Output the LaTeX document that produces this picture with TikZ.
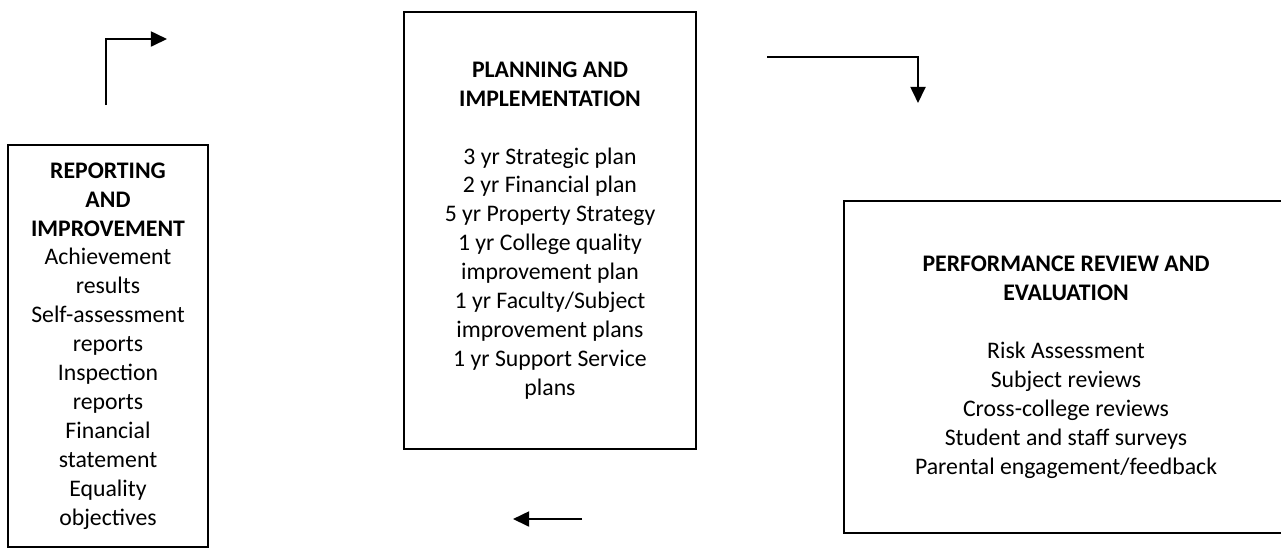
\documentclass[tikz,border=0pt]{standalone}
\usepackage{fontspec}
\setmainfont{Carlito}
\usetikzlibrary{arrows.meta}

\tikzset{every node/.style={font=\fontsize{11}{13.4}\selectfont}}
\tikzstyle{stage}=[draw, line width=0.9pt, align=center, inner sep=0pt]
\tikzstyle{flow}=[line width=0.9pt, -{Triangle[length=7.5pt,width=7pt]}]

\begin{document}
\begin{tikzpicture}[x=0.463pt, y=-0.463pt]
            \useasboundingbox (0,0) rectangle (1281,549);

            % the three stages of the cycle
            \node [stage, minimum width=92.6pt, minimum height=186.1pt] (report) at (108,346)
                {\textbf{REPORTING}\\\textbf{AND}\\\textbf{IMPROVEMENT}\\Achievement\\results\\Self-assessment\\reports\\Inspection\\reports\\Financial\\statement\\Equality\\objectives};
            \node [stage, minimum width=135.2pt, minimum height=202.3pt] (plan) at (550,230.5)
                {\textbf{PLANNING AND}\\\textbf{IMPLEMENTATION}\\[13.4pt]3 yr Strategic plan\\2 yr Financial plan\\5 yr Property Strategy\\1 yr College quality\\improvement plan\\1 yr Faculty/Subject\\improvement plans\\1 yr Support Service\\plans};
            % runs past the right edge of the page
            \node [stage, minimum width=205.6pt, minimum height=153.7pt] (review) at (1066,367)
                {\textbf{PERFORMANCE REVIEW AND}\\\textbf{EVALUATION}\\[13.4pt]Risk Assessment\\Subject reviews\\Cross-college reviews\\Student and staff surveys\\Parental engagement/feedback};

            % loose arrows between them
            \coordinate (a1) at (106,105);
            \coordinate (a2) at (167,39);
            \coordinate (b1) at (767,57);
            \coordinate (b2) at (918,103);
            \coordinate (c1) at (582,519);
            \coordinate (c2) at (513,519);
            \draw [flow] (a1) |- (a2);
            \draw [flow] (b1) -| (b2);
            \draw [flow] (c1) -- (c2);
        \end{tikzpicture}
\end{document}
